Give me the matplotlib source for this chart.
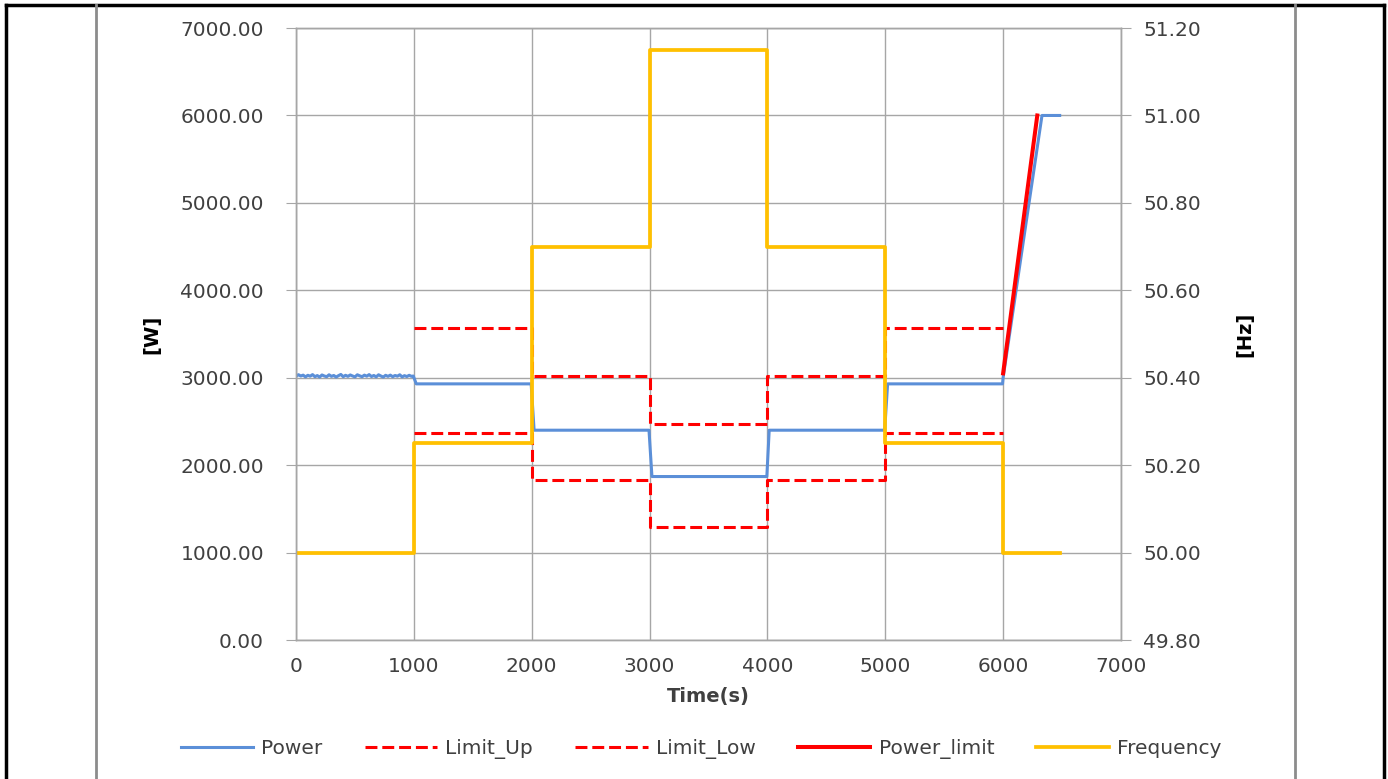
import matplotlib.pyplot as plt
from matplotlib.lines import Line2D
from matplotlib.ticker import FormatStrFormatter, MultipleLocator

# Power measurement (W)
power_t = [0, 20, 40, 60, 80, 100, 120, 140, 160, 180, 200, 220, 240, 260, 280,
           300, 320, 340, 360, 380, 400, 420, 440, 460, 480, 500, 520, 540, 560,
           580, 600, 620, 640, 660, 680, 700, 720, 740, 760, 780, 800, 820, 840,
           860, 880, 900, 920, 940, 960, 980, 995,
           1020, 1500, 1995, 2020, 2500, 2995, 3020, 3500, 3995, 4015, 4500,
           4995, 5020, 5500, 5995, 6000, 6330, 6480]
power = [3015, 3035, 3020, 3030, 3010, 3028, 3018, 3036, 3012, 3025, 3008, 3032,
         3020, 3012, 3034, 3016, 3026, 3008, 3024, 3038, 3012, 3028, 3016, 3032,
         3020, 3010, 3034, 3022, 3012, 3030, 3018, 3036, 3014, 3026, 3010, 3034,
         3020, 3008, 3028, 3016, 3030, 3012, 3026, 3018, 3034, 3010, 3024, 3014,
         3028, 3016, 3020,
         2930, 2930, 2930, 2400, 2400, 2400, 1870, 1870, 1870, 2400, 2400,
         2400, 2930, 2930, 2930, 3000, 6000, 6000]

# Limits (W)
limit_t = [1000, 2000, 2000, 3000, 3000, 4000, 4000, 5000, 5000, 6000]
limit_up = [3570, 3570, 3020, 3020, 2470, 2470, 3020, 3020, 3570, 3570]
limit_low = [2365, 2365, 1830, 1830, 1290, 1290, 1830, 1830, 2365, 2365]

power_limit_t = [6000, 6290]
power_limit = [3050, 6000]

# Frequency (Hz)
freq_t = [0, 1000, 1000, 2000, 2000, 3000, 3000, 4000, 4000, 5000, 5000,
          6000, 6000, 6480]
freq = [50.0, 50.0, 50.25, 50.25, 50.70, 50.70, 51.15, 51.15, 50.70, 50.70,
        50.25, 50.25, 50.0, 50.0]

plt.rcParams['font.family'] = ['DejaVu Sans']

fig = plt.figure(figsize=(13.88, 7.79), dpi=100)
ax = fig.add_axes([0.2133, 0.1784, 0.5943, 0.7856])
ax2 = ax.twinx()

grid_c = '#a6a6a6'
txt_c = '#404040'

ax.plot(power_t, power, color='#5b8fd8', lw=2.2, label='Power')
ax.plot(limit_t, limit_up, color='#ff0000', lw=2.2, dashes=(3.9, 1.6), label='Limit_Up')
ax.plot(limit_t, limit_low, color='#ff0000', lw=2.2, dashes=(3.9, 1.6), label='Limit_Low')
ax.plot(power_limit_t, power_limit, color='#ff0000', lw=2.9, label='Power_limit')
ax2.plot(freq_t, freq, color='#ffc000', lw=2.7, label='Frequency')

ax.set_xlim(0, 7000)
ax.set_ylim(0, 7000)
ax2.set_ylim(49.8, 51.2)
ax.xaxis.set_major_locator(MultipleLocator(1000))
ax.yaxis.set_major_locator(MultipleLocator(1000))
ax2.yaxis.set_major_locator(MultipleLocator(0.2))
ax.yaxis.set_major_formatter(FormatStrFormatter('%.2f'))
ax2.yaxis.set_major_formatter(FormatStrFormatter('%.2f'))

ax.grid(True, color=grid_c, lw=1)
for a in (ax, ax2):
    for s in a.spines.values():
        s.set_color(grid_c)
        s.set_linewidth(1)
ax.tick_params(axis='y', length=7, color=grid_c, labelsize=14.5, labelcolor=txt_c, pad=16)
ax2.tick_params(axis='y', length=7, color=grid_c, labelsize=14.5, labelcolor=txt_c, pad=9)
ax.tick_params(axis='x', length=0, labelsize=14.5, labelcolor=txt_c, pad=12)

ax.set_xlabel('Time(s)', fontsize=14, fontweight='bold', color=txt_c, labelpad=8)
ax.set_ylabel('[W]', fontsize=14, fontweight='bold', color='black', labelpad=14)
ax2.set_ylabel('[Hz]', fontsize=14, fontweight='bold', color='black', rotation=90, labelpad=25)

h1, l1 = ax.get_legend_handles_labels()
h2, l2 = ax2.get_legend_handles_labels()
fig.legend(h1 + h2, l1 + l2, loc='center', bbox_to_anchor=(0.505, 0.038), ncol=5,
           frameon=False, fontsize=14.5, handlelength=3.6, columnspacing=2.1,
           handletextpad=0.4, labelcolor=txt_c)

# outer frame and inner chart-area edges
fig.add_artist(Line2D([0.0045, 0.0045], [0, 0.994], color='black', lw=2.5))
fig.add_artist(Line2D([0.997, 0.997], [0, 0.994], color='black', lw=2.5))
fig.add_artist(Line2D([0.0045, 0.997], [0.994, 0.994], color='black', lw=2.5))
fig.add_artist(Line2D([0.0695, 0.0695], [0, 0.994], color='#8c8c8c', lw=2))
fig.add_artist(Line2D([0.933, 0.933], [0, 0.994], color='#8c8c8c', lw=2))

fig.savefig('out.png', dpi=100)
